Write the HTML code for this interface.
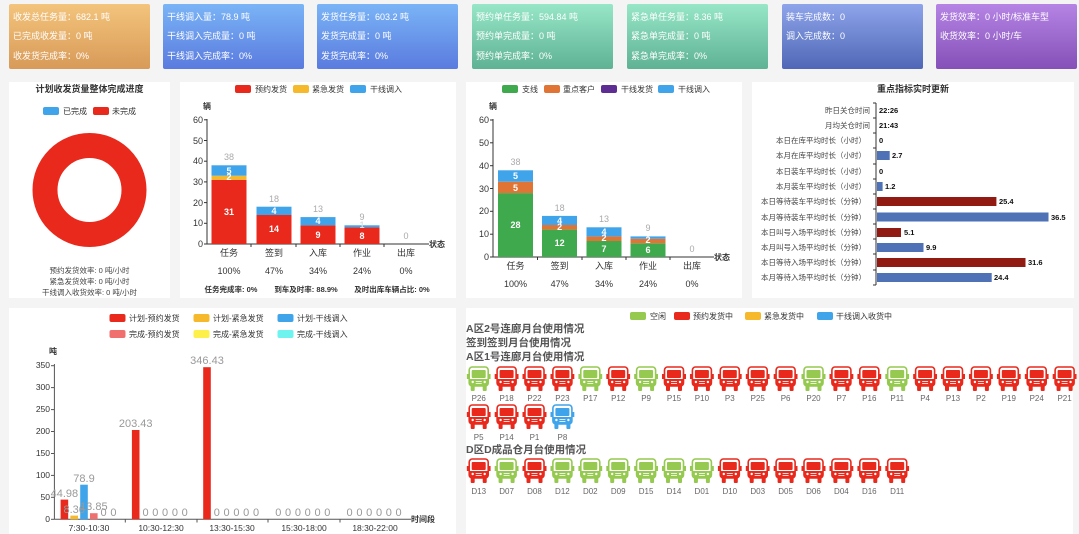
<!DOCTYPE html>
<html><head><meta charset="utf-8"><style>
html,body{margin:0;padding:0;background:#f4f4f4;}
svg{display:block;font-family:"Liberation Sans","Noto Sans CJK SC",sans-serif;}
</style></head><body>
<svg width="1079" height="534" viewBox="0 0 1079 534" xmlns="http://www.w3.org/2000/svg">
<defs>
<linearGradient id="g1" x1="0" y1="0" x2="0" y2="1"><stop offset="0" stop-color="#f3c47c"/><stop offset="1" stop-color="#d89a58"/></linearGradient>
<linearGradient id="g2" x1="0" y1="0" x2="0" y2="1"><stop offset="0" stop-color="#7ab4f6"/><stop offset="1" stop-color="#5a7bdf"/></linearGradient>
<linearGradient id="g3" x1="0" y1="0" x2="0" y2="1"><stop offset="0" stop-color="#97e6c8"/><stop offset="1" stop-color="#5fb294"/></linearGradient>
<linearGradient id="g4" x1="0" y1="0" x2="0" y2="1"><stop offset="0" stop-color="#8ea4ea"/><stop offset="1" stop-color="#4f67b6"/></linearGradient>
<linearGradient id="g5" x1="0" y1="0" x2="0" y2="1"><stop offset="0" stop-color="#b584e4"/><stop offset="1" stop-color="#8550b8"/></linearGradient>
<symbol id="tk" viewBox="0 0 24 25">
<rect x="0" y="8" width="2.2" height="5" fill="currentColor"/><rect x="21.8" y="8" width="2.2" height="5" fill="currentColor"/>
<rect x="2.5" y="1" width="19" height="19" rx="3" fill="#fff" stroke="currentColor" stroke-width="1.6"/>
<rect x="5" y="4" width="14" height="8" rx="1" fill="currentColor"/>
<rect x="3" y="13" width="18" height="6.5" fill="currentColor"/>
<circle cx="6" cy="16" r="1.2" fill="#fff"/><circle cx="18" cy="16" r="1.2" fill="#fff"/>
<rect x="9" y="15" width="6" height="0.8" fill="#fff"/><rect x="9" y="17" width="6" height="0.8" fill="#fff"/>
<rect x="4" y="19.5" width="4" height="5.5" rx="1" fill="currentColor"/><rect x="16" y="19.5" width="4" height="5.5" rx="1" fill="currentColor"/>
</symbol>
</defs>

<!-- cards -->
<g font-size="9" fill="#fff">
<rect x="9" y="4" width="141" height="65" rx="2" fill="url(#g1)"/>
<text x="13" y="20">收发总任务量：682.1 吨</text><text x="13" y="39">已完成收发量：0 吨</text><text x="13" y="59">收发货完成率：0%</text>
<rect x="163" y="4" width="141" height="65" rx="2" fill="url(#g2)"/>
<text x="167" y="20">干线调入量：78.9 吨</text><text x="167" y="39">干线调入完成量：0 吨</text><text x="167" y="59">干线调入完成率：0%</text>
<rect x="317" y="4" width="141" height="65" rx="2" fill="url(#g2)"/>
<text x="321" y="20">发货任务量：603.2 吨</text><text x="321" y="39">发货完成量：0 吨</text><text x="321" y="59">发货完成率：0%</text>
<rect x="472" y="4" width="141" height="65" rx="2" fill="url(#g3)"/>
<text x="476" y="20">预约单任务量：594.84 吨</text><text x="476" y="39">预约单完成量：0 吨</text><text x="476" y="59">预约单完成率：0%</text>
<rect x="627" y="4" width="141" height="65" rx="2" fill="url(#g3)"/>
<text x="631" y="20">紧急单任务量：8.36 吨</text><text x="631" y="39">紧急单完成量：0 吨</text><text x="631" y="59">紧急单完成率：0%</text>
<rect x="782" y="4" width="141" height="65" rx="2" fill="url(#g4)"/>
<text x="786" y="20">装车完成数：0</text><text x="786" y="39">调入完成数：0</text>
<rect x="936" y="4" width="141" height="65" rx="2" fill="url(#g5)"/>
<text x="940" y="20">发货效率：0 小时/标准车型</text><text x="940" y="39">收货效率：0 小时/车</text>
</g>

<!-- panels -->
<rect x="9" y="82" width="161" height="216" fill="#fff"/>
<rect x="180" y="82" width="276" height="216" fill="#fff"/>
<rect x="466" y="82" width="276" height="216" fill="#fff"/>
<rect x="752" y="82" width="322" height="216" fill="#fff"/>
<rect x="9" y="308" width="447" height="226" fill="#fff"/>
<rect x="466" y="308" width="607" height="226" fill="#fff"/>

<!-- P1 donut -->
<text x="89.5" y="92" font-size="9" font-weight="bold" fill="#333" text-anchor="middle">计划收发货量整体完成进度</text>
<rect x="43" y="107" width="16" height="8" rx="2" fill="#3fa4ea"/><text x="63" y="114" font-size="8" fill="#333">已完成</text>
<rect x="93" y="107" width="16" height="8" rx="2" fill="#e8291c"/><text x="112" y="114" font-size="8" fill="#333">未完成</text>
<circle cx="89.5" cy="190" r="44.5" fill="none" stroke="#e8291c" stroke-width="25"/>
<g font-size="7.5" fill="#444" text-anchor="middle">
<text x="89.5" y="273">预约发货效率: 0 吨/小时</text>
<text x="89.5" y="284">紧急发货效率: 0 吨/小时</text>
<text x="89.5" y="295">干线调入收货效率: 0 吨/小时</text>
</g>

<!-- P2 -->
<g font-size="8" fill="#333">
<rect x="235" y="85" width="16" height="8" rx="2" fill="#e8291c"/><text x="255" y="92">预约发货</text>
<rect x="293" y="85" width="16" height="8" rx="2" fill="#f6b92c"/><text x="312" y="92">紧急发货</text>
<rect x="350" y="85" width="16" height="8" rx="2" fill="#3fa4ea"/><text x="370" y="92">干线调入</text>
<text x="203" y="109" font-weight="bold">辆</text>
</g>
<g stroke="#333" stroke-width="1"><line x1="207" y1="119" x2="207" y2="244"/><line x1="207" y1="244" x2="429" y2="244"/>
<line x1="204" y1="244" x2="207" y2="244"/><line x1="204" y1="223.3" x2="207" y2="223.3"/><line x1="204" y1="202.6" x2="207" y2="202.6"/><line x1="204" y1="181.9" x2="207" y2="181.9"/><line x1="204" y1="161.2" x2="207" y2="161.2"/><line x1="204" y1="140.5" x2="207" y2="140.5"/><line x1="204" y1="119.8" x2="207" y2="119.8"/>
<line x1="251" y1="244" x2="251" y2="247"/><line x1="296" y1="244" x2="296" y2="247"/><line x1="340" y1="244" x2="340" y2="247"/><line x1="384" y1="244" x2="384" y2="247"/></g>
<g font-size="9" fill="#333" text-anchor="end"><text x="203" y="247">0</text><text x="203" y="226">10</text><text x="203" y="206">20</text><text x="203" y="185">30</text><text x="203" y="164">40</text><text x="203" y="144">50</text><text x="203" y="123">60</text></g>
<text x="429" y="247" font-size="8" font-weight="bold" fill="#333">状态</text>
<rect x="211.5" y="179.8" width="35" height="64.2" fill="#e8291c"/><rect x="211.5" y="175.7" width="35" height="4.1" fill="#f6b92c"/><rect x="211.5" y="165.3" width="35" height="10.4" fill="#3fa4ea"/>
<rect x="256.5" y="215" width="35" height="29" fill="#e8291c"/><rect x="256.5" y="206.7" width="35" height="8.3" fill="#3fa4ea"/>
<rect x="300.5" y="225.4" width="35" height="18.6" fill="#e8291c"/><rect x="300.5" y="217.1" width="35" height="8.3" fill="#3fa4ea"/>
<rect x="344.5" y="227.4" width="35" height="16.6" fill="#e8291c"/><rect x="344.5" y="225.3" width="35" height="2.1" fill="#3fa4ea"/>
<g font-size="9" font-weight="bold" fill="#fff" text-anchor="middle">
<text x="229" y="215">31</text><text x="229" y="180">2</text><text x="229" y="174">5</text>
<text x="274" y="232">14</text><text x="274" y="214">4</text>
<text x="318" y="238">9</text><text x="318" y="224">4</text>
<text x="362" y="239">8</text><text x="362" y="228" fill="#ddd">1</text></g>
<g font-size="9" fill="#aaa" text-anchor="middle"><text x="229" y="160">38</text><text x="274" y="202">18</text><text x="318" y="212">13</text><text x="362" y="220">9</text><text x="406" y="239">0</text></g>
<g font-size="9" fill="#333" text-anchor="middle">
<text x="229" y="256">任务</text><text x="274" y="256">签到</text><text x="318" y="256">入库</text><text x="362" y="256">作业</text><text x="406" y="256">出库</text>
<text x="229" y="274">100%</text><text x="274" y="274">47%</text><text x="318" y="274">34%</text><text x="362" y="274">24%</text><text x="406" y="274">0%</text>
<g font-size="7.5" font-weight="bold"><text x="231" y="292">任务完成率: 0%</text><text x="306" y="292">到车及时率: 88.9%</text><text x="392" y="292">及时出库车辆占比: 0%</text></g>
</g>

<!-- P3 -->
<g font-size="8" fill="#333">
<rect x="502" y="85" width="16" height="8" rx="2" fill="#3fa94d"/><text x="522" y="92">支线</text>
<rect x="544" y="85" width="16" height="8" rx="2" fill="#e07434"/><text x="563" y="92">重点客户</text>
<rect x="601" y="85" width="16" height="8" rx="2" fill="#5e2d94"/><text x="621" y="92">干线发货</text>
<rect x="658" y="85" width="16" height="8" rx="2" fill="#3fa4ea"/><text x="678" y="92">干线调入</text>
<text x="489" y="109" font-weight="bold">辆</text>
</g>
<g stroke="#333" stroke-width="1"><line x1="493" y1="119" x2="493" y2="257"/><line x1="493" y1="257" x2="714" y2="257"/>
<line x1="490" y1="257" x2="493" y2="257"/><line x1="490" y1="234.2" x2="493" y2="234.2"/><line x1="490" y1="211.3" x2="493" y2="211.3"/><line x1="490" y1="188.5" x2="493" y2="188.5"/><line x1="490" y1="165.7" x2="493" y2="165.7"/><line x1="490" y1="142.8" x2="493" y2="142.8"/><line x1="490" y1="120" x2="493" y2="120"/>
<line x1="537.5" y1="257" x2="537.5" y2="260"/><line x1="582" y1="257" x2="582" y2="260"/><line x1="626" y1="257" x2="626" y2="260"/><line x1="670" y1="257" x2="670" y2="260"/></g>
<g font-size="9" fill="#333" text-anchor="end"><text x="489" y="260">0</text><text x="489" y="237">10</text><text x="489" y="214">20</text><text x="489" y="192">30</text><text x="489" y="169">40</text><text x="489" y="146">50</text><text x="489" y="123">60</text></g>
<text x="714" y="260" font-size="8" font-weight="bold" fill="#333">状态</text>
<rect x="498" y="193.1" width="35" height="63.9" fill="#3fa94d"/><rect x="498" y="181.7" width="35" height="11.4" fill="#e07434"/><rect x="498" y="170.3" width="35" height="11.4" fill="#3fa4ea"/>
<rect x="542" y="229.6" width="35" height="27.4" fill="#3fa94d"/><rect x="542" y="225" width="35" height="4.6" fill="#e07434"/><rect x="542" y="215.9" width="35" height="9.1" fill="#3fa4ea"/>
<rect x="586.5" y="241" width="35" height="16" fill="#3fa94d"/><rect x="586.5" y="236.4" width="35" height="4.6" fill="#e07434"/><rect x="586.5" y="227.3" width="35" height="9.1" fill="#3fa4ea"/>
<rect x="630.5" y="243.3" width="35" height="13.7" fill="#3fa94d"/><rect x="630.5" y="238.7" width="35" height="4.6" fill="#e07434"/><rect x="630.5" y="236.4" width="35" height="2.3" fill="#3fa4ea"/>
<g font-size="9" font-weight="bold" fill="#fff" text-anchor="middle">
<text x="515.5" y="228">28</text><text x="515.5" y="191">5</text><text x="515.5" y="179">5</text>
<text x="559.6" y="246">12</text><text x="559.6" y="230">2</text><text x="559.6" y="224">4</text>
<text x="604" y="252">7</text><text x="604" y="241">2</text><text x="604" y="235">4</text>
<text x="648" y="253">6</text><text x="648" y="243">2</text></g>
<g font-size="9" fill="#aaa" text-anchor="middle"><text x="515.5" y="165">38</text><text x="559.6" y="211">18</text><text x="604" y="222">13</text><text x="648" y="231">9</text><text x="692" y="252">0</text></g>
<g font-size="9" fill="#333" text-anchor="middle">
<text x="515.5" y="269">任务</text><text x="559.6" y="269">签到</text><text x="604" y="269">入库</text><text x="648" y="269">作业</text><text x="692" y="269">出库</text>
<text x="515.5" y="287">100%</text><text x="559.6" y="287">47%</text><text x="604" y="287">34%</text><text x="648" y="287">24%</text><text x="692" y="287">0%</text></g>

<!-- P4 -->
<text x="913" y="92" font-size="9" font-weight="bold" fill="#333" text-anchor="middle">重点指标实时更新</text>
<line x1="876" y1="103" x2="876" y2="285" stroke="#333"/>
<g stroke="#333"><line x1="873" y1="103" x2="876" y2="103"/><line x1="873" y1="118" x2="876" y2="118"/><line x1="873" y1="133" x2="876" y2="133"/><line x1="873" y1="148" x2="876" y2="148"/><line x1="873" y1="164" x2="876" y2="164"/><line x1="873" y1="179" x2="876" y2="179"/><line x1="873" y1="194" x2="876" y2="194"/><line x1="873" y1="209" x2="876" y2="209"/><line x1="873" y1="224" x2="876" y2="224"/><line x1="873" y1="239" x2="876" y2="239"/><line x1="873" y1="254" x2="876" y2="254"/><line x1="873" y1="270" x2="876" y2="270"/><line x1="873" y1="285" x2="876" y2="285"/></g>
<g font-size="7.5" fill="#444" text-anchor="end">
<text x="870" y="113">昨日关仓时间</text><text x="870" y="128">月均关仓时间</text>
<text x="866" y="143">本日在库平均时长（小时）</text><text x="866" y="158">本月在库平均时长（小时）</text>
<text x="866" y="174">本日装车平均时长（小时）</text><text x="866" y="189">本月装车平均时长（小时）</text>
<text x="866" y="204">本日等待装车平均时长（分钟）</text><text x="866" y="220">本月等待装车平均时长（分钟）</text>
<text x="866" y="235">本日叫号入场平均时长（分钟）</text><text x="866" y="250">本月叫号入场平均时长（分钟）</text>
<text x="866" y="265">本日等待入场平均时长（分钟）</text><text x="866" y="280">本月等待入场平均时长（分钟）</text></g>
<rect x="877" y="151" width="12.7" height="9" fill="#4e72b5"/>
<rect x="877" y="182" width="5.6" height="9" fill="#4e72b5"/>
<rect x="877" y="197" width="119.4" height="9" fill="#911a12"/>
<rect x="877" y="212.5" width="171.5" height="9" fill="#4e72b5"/>
<rect x="877" y="228" width="24" height="9" fill="#911a12"/>
<rect x="877" y="243" width="46.5" height="9" fill="#4e72b5"/>
<rect x="877" y="258" width="148.5" height="9" fill="#911a12"/>
<rect x="877" y="273" width="114.7" height="9" fill="#4e72b5"/>
<g font-size="7.5" font-weight="bold" fill="#111">
<text x="879" y="113">22:26</text><text x="879" y="128">21:43</text><text x="879" y="143">0</text><text x="892" y="158">2.7</text><text x="879" y="174">0</text><text x="885" y="189">1.2</text><text x="999" y="204">25.4</text><text x="1051" y="220">36.5</text><text x="904" y="235">5.1</text><text x="926" y="250">9.9</text><text x="1028" y="265">31.6</text><text x="994" y="280">24.4</text></g>

<!-- P5 -->
<g font-size="8" fill="#333">
<rect x="109.5" y="314" width="16" height="8" rx="2" fill="#e8291c"/><text x="129" y="321">计划-预约发货</text>
<rect x="193.5" y="314" width="16" height="8" rx="2" fill="#f6b92c"/><text x="213" y="321">计划-紧急发货</text>
<rect x="277.5" y="314" width="16" height="8" rx="2" fill="#3fa4ea"/><text x="297" y="321">计划-干线调入</text>
<rect x="109.5" y="330" width="16" height="8" rx="2" fill="#f07070"/><text x="129" y="337">完成-预约发货</text>
<rect x="193.5" y="330" width="16" height="8" rx="2" fill="#fdf04a"/><text x="213" y="337">完成-紧急发货</text>
<rect x="277.5" y="330" width="16" height="8" rx="2" fill="#6ef3ee"/><text x="297" y="337">完成-干线调入</text>
<text x="49" y="354" font-weight="bold">吨</text>
</g>
<g stroke="#555" stroke-width="1"><line x1="54.4" y1="364" x2="54.4" y2="519.3"/><line x1="54.4" y1="519.3" x2="411" y2="519.3"/>
<line x1="51" y1="519.3" x2="54.4" y2="519.3"/><line x1="51" y1="497.3" x2="54.4" y2="497.3"/><line x1="51" y1="475.4" x2="54.4" y2="475.4"/><line x1="51" y1="453.5" x2="54.4" y2="453.5"/><line x1="51" y1="431.5" x2="54.4" y2="431.5"/><line x1="51" y1="409.6" x2="54.4" y2="409.6"/><line x1="51" y1="387.6" x2="54.4" y2="387.6"/><line x1="51" y1="365.7" x2="54.4" y2="365.7"/>
<line x1="125.3" y1="519.3" x2="125.3" y2="522.5"/><line x1="197" y1="519.3" x2="197" y2="522.5"/><line x1="268" y1="519.3" x2="268" y2="522.5"/><line x1="340" y1="519.3" x2="340" y2="522.5"/></g>
<g font-size="8.5" fill="#333" text-anchor="end"><text x="50" y="522">0</text><text x="50" y="500">50</text><text x="50" y="478">100</text><text x="50" y="456">150</text><text x="50" y="434">200</text><text x="50" y="412">250</text><text x="50" y="390">300</text><text x="50" y="368">350</text></g>
<text x="411" y="522" font-size="8" font-weight="bold" fill="#333">时间段</text>
<g font-size="8.5" fill="#333" text-anchor="middle"><text x="89" y="531">7:30-10:30</text><text x="161" y="531">10:30-12:30</text><text x="232" y="531">13:30-15:30</text><text x="304" y="531">15:30-18:00</text><text x="375" y="531">18:30-22:00</text></g>
<rect x="60.6" y="499.6" width="7.6" height="19.7" fill="#e8291c"/>
<rect x="70.4" y="515.6" width="7.6" height="3.7" fill="#f6b92c"/>
<rect x="80.2" y="484.7" width="7.6" height="34.6" fill="#3fa4ea"/>
<rect x="90" y="513.2" width="7.6" height="6.1" fill="#f07070"/>
<rect x="131.9" y="430" width="7.6" height="89.3" fill="#e8291c"/>
<rect x="203.2" y="367.2" width="7.6" height="152.1" fill="#e8291c"/>
<g font-size="11" fill="#999" text-anchor="middle">
<text x="64.4" y="497">44.98</text><text x="74.2" y="513">8.36</text><text x="84" y="482">78.9</text><text x="93.8" y="510">13.85</text>
<text x="103.6" y="516">0</text><text x="113.4" y="516">0</text>
<text x="135.7" y="427">203.43</text>
<text x="145.5" y="516">0</text><text x="155.3" y="516">0</text><text x="165.1" y="516">0</text><text x="174.9" y="516">0</text><text x="184.7" y="516">0</text>
<text x="207" y="364">346.43</text>
<text x="216.8" y="516">0</text><text x="226.6" y="516">0</text><text x="236.4" y="516">0</text><text x="246.2" y="516">0</text><text x="256" y="516">0</text>
<text x="278.3" y="516">0</text><text x="288.1" y="516">0</text><text x="297.9" y="516">0</text><text x="307.7" y="516">0</text><text x="317.5" y="516">0</text><text x="327.3" y="516">0</text>
<text x="349.6" y="516">0</text><text x="359.4" y="516">0</text><text x="369.2" y="516">0</text><text x="379" y="516">0</text><text x="388.8" y="516">0</text><text x="398.6" y="516">0</text>
</g>

<!-- P6 -->
<g font-size="8" fill="#333">
<rect x="630" y="312" width="16" height="8" rx="2" fill="#95c94f"/><text x="650" y="319">空闲</text>
<rect x="674" y="312" width="16" height="8" rx="2" fill="#e8291c"/><text x="693" y="319">预约发货中</text>
<rect x="745" y="312" width="16" height="8" rx="2" fill="#f6b92c"/><text x="764" y="319">紧急发货中</text>
<rect x="817" y="312" width="16" height="8" rx="2" fill="#3fa4ea"/><text x="836" y="319">干线调入收货中</text>
</g>
<g font-size="10.5" font-weight="bold" fill="#555">
<text x="466" y="332">A区2号连廊月台使用情况</text>
<text x="466" y="346">签到签到月台使用情况</text>
<text x="466" y="360">A区1号连廊月台使用情况</text>
<text x="466" y="453">D区D成品仓月台使用情况</text>
</g>
<g id="trucks"></g>
<g font-size="8" fill="#666" text-anchor="middle">
<!-- row1 -->
<use href="#tk" x="466.7" y="366" width="24" height="25" color="#95c94f"/><text x="478.7" y="401">P26</text>
<use href="#tk" x="494.6" y="366" width="24" height="25" color="#e8291c"/><text x="506.6" y="401">P18</text>
<use href="#tk" x="522.5" y="366" width="24" height="25" color="#e8291c"/><text x="534.5" y="401">P22</text>
<use href="#tk" x="550.4" y="366" width="24" height="25" color="#e8291c"/><text x="562.4" y="401">P23</text>
<use href="#tk" x="578.3" y="366" width="24" height="25" color="#95c94f"/><text x="590.3" y="401">P17</text>
<use href="#tk" x="606.2" y="366" width="24" height="25" color="#e8291c"/><text x="618.2" y="401">P12</text>
<use href="#tk" x="634.1" y="366" width="24" height="25" color="#95c94f"/><text x="646.1" y="401">P9</text>
<use href="#tk" x="662" y="366" width="24" height="25" color="#e8291c"/><text x="674" y="401">P15</text>
<use href="#tk" x="689.9" y="366" width="24" height="25" color="#e8291c"/><text x="701.9" y="401">P10</text>
<use href="#tk" x="717.8" y="366" width="24" height="25" color="#e8291c"/><text x="729.8" y="401">P3</text>
<use href="#tk" x="745.7" y="366" width="24" height="25" color="#e8291c"/><text x="757.7" y="401">P25</text>
<use href="#tk" x="773.6" y="366" width="24" height="25" color="#e8291c"/><text x="785.6" y="401">P6</text>
<use href="#tk" x="801.5" y="366" width="24" height="25" color="#95c94f"/><text x="813.5" y="401">P20</text>
<use href="#tk" x="829.4" y="366" width="24" height="25" color="#e8291c"/><text x="841.4" y="401">P7</text>
<use href="#tk" x="857.3" y="366" width="24" height="25" color="#e8291c"/><text x="869.3" y="401">P16</text>
<use href="#tk" x="885.2" y="366" width="24" height="25" color="#95c94f"/><text x="897.2" y="401">P11</text>
<use href="#tk" x="913.1" y="366" width="24" height="25" color="#e8291c"/><text x="925.1" y="401">P4</text>
<use href="#tk" x="941" y="366" width="24" height="25" color="#e8291c"/><text x="953" y="401">P13</text>
<use href="#tk" x="968.9" y="366" width="24" height="25" color="#e8291c"/><text x="980.9" y="401">P2</text>
<use href="#tk" x="996.8" y="366" width="24" height="25" color="#e8291c"/><text x="1008.8" y="401">P19</text>
<use href="#tk" x="1024.7" y="366" width="24" height="25" color="#e8291c"/><text x="1036.7" y="401">P24</text>
<use href="#tk" x="1052.6" y="366" width="24" height="25" color="#e8291c"/><text x="1064.6" y="401">P21</text>
<!-- row2 -->
<use href="#tk" x="466.7" y="404" width="24" height="25" color="#e8291c"/><text x="478.7" y="440">P5</text>
<use href="#tk" x="494.6" y="404" width="24" height="25" color="#e8291c"/><text x="506.6" y="440">P14</text>
<use href="#tk" x="522.5" y="404" width="24" height="25" color="#e8291c"/><text x="534.5" y="440">P1</text>
<use href="#tk" x="550.4" y="404" width="24" height="25" color="#3fa4ea"/><text x="562.4" y="440">P8</text>
<!-- D row -->
<use href="#tk" x="466.7" y="458" width="24" height="25" color="#e8291c"/><text x="478.7" y="494">D13</text>
<use href="#tk" x="494.6" y="458" width="24" height="25" color="#95c94f"/><text x="506.6" y="494">D07</text>
<use href="#tk" x="522.5" y="458" width="24" height="25" color="#e8291c"/><text x="534.5" y="494">D08</text>
<use href="#tk" x="550.4" y="458" width="24" height="25" color="#95c94f"/><text x="562.4" y="494">D12</text>
<use href="#tk" x="578.3" y="458" width="24" height="25" color="#95c94f"/><text x="590.3" y="494">D02</text>
<use href="#tk" x="606.2" y="458" width="24" height="25" color="#95c94f"/><text x="618.2" y="494">D09</text>
<use href="#tk" x="634.1" y="458" width="24" height="25" color="#95c94f"/><text x="646.1" y="494">D15</text>
<use href="#tk" x="662" y="458" width="24" height="25" color="#95c94f"/><text x="674" y="494">D14</text>
<use href="#tk" x="689.9" y="458" width="24" height="25" color="#95c94f"/><text x="701.9" y="494">D01</text>
<use href="#tk" x="717.8" y="458" width="24" height="25" color="#e8291c"/><text x="729.8" y="494">D10</text>
<use href="#tk" x="745.7" y="458" width="24" height="25" color="#e8291c"/><text x="757.7" y="494">D03</text>
<use href="#tk" x="773.6" y="458" width="24" height="25" color="#e8291c"/><text x="785.6" y="494">D05</text>
<use href="#tk" x="801.5" y="458" width="24" height="25" color="#e8291c"/><text x="813.5" y="494">D06</text>
<use href="#tk" x="829.4" y="458" width="24" height="25" color="#e8291c"/><text x="841.4" y="494">D04</text>
<use href="#tk" x="857.3" y="458" width="24" height="25" color="#e8291c"/><text x="869.3" y="494">D16</text>
<use href="#tk" x="885.2" y="458" width="24" height="25" color="#e8291c"/><text x="897.2" y="494">D11</text>
</g>
</svg>
</body></html>
